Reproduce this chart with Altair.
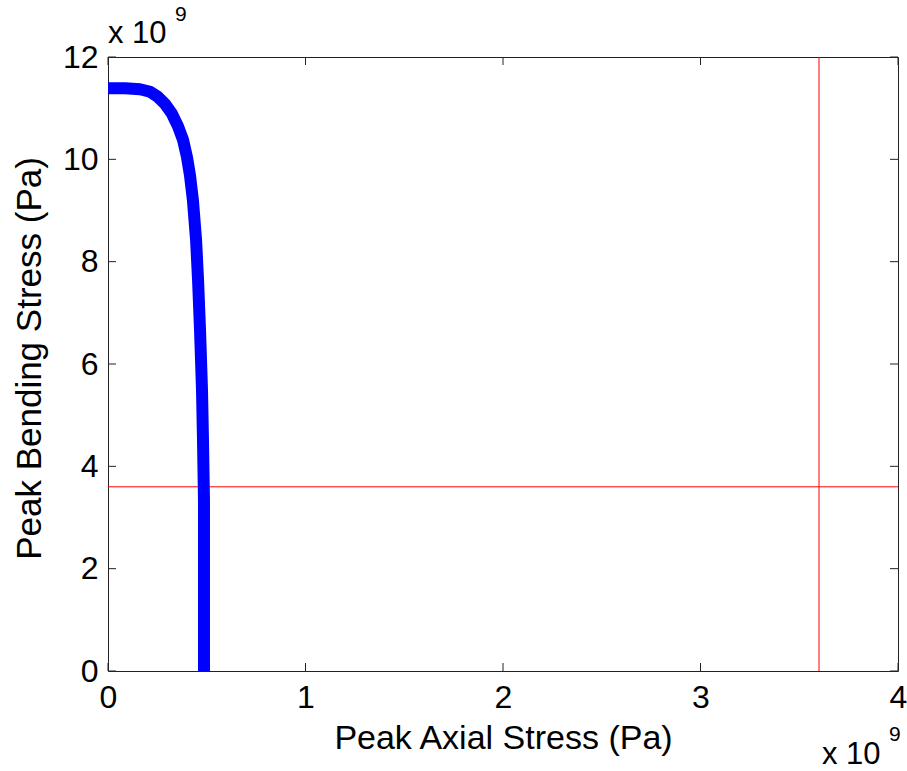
import altair as alt
import pandas as pd

# Curve values, in units of 1e9 Pa
axial = [0.0, 0.086, 0.162, 0.213, 0.253, 0.289, 0.324, 0.354, 0.380, 0.400,
         0.415, 0.430, 0.446, 0.456, 0.466, 0.476, 0.481, 0.486, 0.486]
bending = [11.39, 11.39, 11.37, 11.32, 11.22, 11.08, 10.89, 10.65, 10.38, 10.04,
           9.69, 9.20, 8.42, 7.64, 6.66, 5.49, 4.51, 3.34, 0.0]

limit_axial = [3.6]
limit_bending = [3.6]

x_ticks = [0, 1, 2, 3, 4]
y_ticks = [0, 2, 4, 6, 8, 10, 12]

W, H = 790, 614
FONT = "Liberation Sans"

curve = pd.DataFrame({"i": list(range(len(axial))), "ax": axial, "bd": bending})

xs = alt.Scale(domain=[0, 4], nice=False, zero=False)
ys = alt.Scale(domain=[0, 12], nice=False, zero=False)

base = alt.Chart(curve)

line = base.mark_line(color="#0000ff", strokeWidth=12, strokeCap="butt",
                      strokeJoin="round").encode(
    x=alt.X("ax:Q", scale=xs,
            axis=alt.Axis(values=x_ticks, format="d", title="Peak Axial Stress (Pa)",
                          grid=False, ticks=False, domain=False,
                          labelFont=FONT, labelFontSize=32, labelColor="black",
                          labelPadding=11, labelFlush=False, labelOverlap=False,
                          titleFont=FONT, titleFontSize=34, titleFontWeight="normal",
                          titleColor="black", titleBaseline="alphabetic",
                          titleX=W / 2, titleY=77, titleAlign="center")),
    y=alt.Y("bd:Q", scale=ys,
            axis=alt.Axis(values=y_ticks, format="d", title="Peak Bending Stress (Pa)",
                          grid=False, ticks=False, domain=False,
                          labelFont=FONT, labelFontSize=32, labelColor="black",
                          labelPadding=10, labelFlush=False, labelOverlap=False,
                          titleFont=FONT, titleFontSize=35, titleFontWeight="normal",
                          titleColor="black", titleBaseline="alphabetic",
                          titleAngle=270, titleX=-68, titleY=H / 2 - 6,
                          titleAlign="center")),
    order="i:Q",
)

vrule = alt.Chart(pd.DataFrame({"v": limit_axial})).mark_rule(
    color="#ff0000", strokeWidth=1).encode(x=alt.X("v:Q", scale=xs))
hrule = alt.Chart(pd.DataFrame({"v": limit_bending})).mark_rule(
    color="#ff0000", strokeWidth=1).encode(y=alt.Y("v:Q", scale=ys))

xt = alt.Chart(pd.DataFrame({"t": x_ticks}))
yt = alt.Chart(pd.DataFrame({"t": y_ticks}))
TICK = 8
tick_color = "#222222"
xb = xt.mark_rule(color=tick_color, strokeWidth=1).encode(
    x=alt.X("t:Q", scale=xs), y=alt.value(H), y2=alt.value(H - TICK))
xtop = xt.mark_rule(color=tick_color, strokeWidth=1).encode(
    x=alt.X("t:Q", scale=xs), y=alt.value(0), y2=alt.value(TICK))
yl = yt.mark_rule(color=tick_color, strokeWidth=1).encode(
    y=alt.Y("t:Q", scale=ys), x=alt.value(0), x2=alt.value(TICK))
yr = yt.mark_rule(color=tick_color, strokeWidth=1).encode(
    y=alt.Y("t:Q", scale=ys), x=alt.value(W), x2=alt.value(W - TICK))

exp_base = pd.DataFrame({"t": ["x 10"]})
exp_sup = pd.DataFrame({"t": ["9"]})

def txt(df, x, y, size):
    return alt.Chart(df).mark_text(font=FONT, fontSize=size, color="black",
                                   align="left", baseline="alphabetic").encode(
        x=alt.value(x), y=alt.value(y), text="t:N")

texts = (txt(exp_base, 0, -14, 31) + txt(exp_sup, 67, -36, 21)
         + txt(exp_base, 714, 707, 31) + txt(exp_sup, 781, 684, 21))

chart = alt.layer(hrule, vrule, line, xb, xtop, yl, yr, texts).properties(
    width=W, height=H,
    autosize=alt.AutoSizeParams(type="none"),
    padding={"left": 108, "top": 57, "right": 9, "bottom": 100},
    background="white",
).configure_view(stroke="#222222", strokeWidth=1)

chart.save("out.html", embed_options={"renderer": "svg", "actions": False})
